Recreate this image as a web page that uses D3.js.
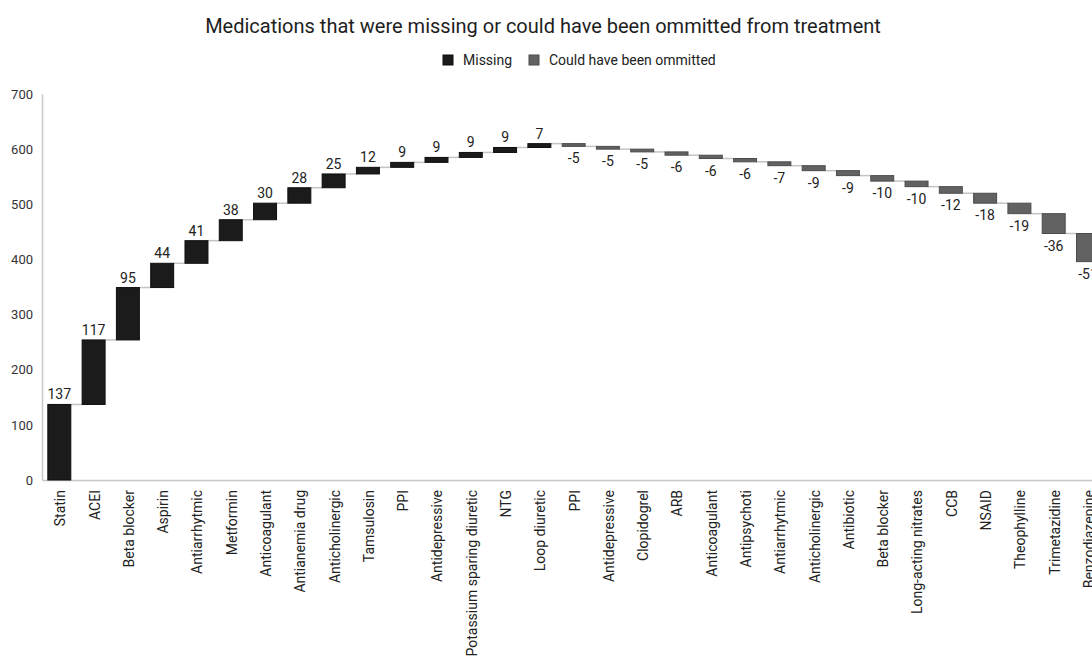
<!DOCTYPE html>
<html><head><meta charset="utf-8">
<script src="https://cdn.jsdelivr.net/npm/d3@7"></script>
<style>
html,body{margin:0;padding:0;background:#fff;overflow:hidden;}
svg{display:block;font-family:Roboto,"Noto Sans",sans-serif;}
</style></head>
<body>
<svg id="chart" width="1092" height="659"></svg>
<script>
const categories = ["Statin","ACEI","Beta blocker","Aspirin","Antiarrhytmic","Metformin","Anticoagulant","Antianemia drug","Anticholinergic","Tamsulosin","PPI","Antidepressive","Potassium sparing diuretic","NTG","Loop diuretic","PPI","Antidepressive","Clopidogrel","ARB","Anticoagulant","Antipsychoti","Antiarrhytmic","Anticholinergic","Antibiotic","Beta blocker","Long-acting nitrates","CCB","NSAID","Theophylline","Trimetazidine","Benzodiazepine"];
const values = [137,117,95,44,41,38,30,28,25,12,9,9,9,9,7,-5,-5,-5,-6,-6,-6,-7,-9,-9,-10,-10,-12,-18,-19,-36,-51];
const seriesNames = ["Missing","Could have been ommitted"];
const yTicks = [0,100,200,300,400,500,600,700];
const title = "Medications that were missing or could have been ommitted from treatment";

const colors = {pos:"#1b1b1b", posStroke:"#0e0e0e", neg:"#626262", negStroke:"#4c4c4c"};

let cum = 0;
const data = categories.map((c,i)=>{
  const start = cum; cum += values[i];
  return {key: i, name: c, value: values[i], start, end: cum};
});

const svg = d3.select("#chart");
const x0 = 42, y0 = 480, yTop = 94;
const x = d3.scaleBand().domain(data.map(d=>d.key)).range([x0, x0 + 31*34.3]).paddingInner(0.33).paddingOuter(0.17);
const y = d3.scaleLinear().domain([0,700]).range([y0, yTop]);

// title
svg.append("text").attr("x",543).attr("y",33).attr("text-anchor","middle")
  .attr("font-size",20).attr("fill","#1e1e1e").text(title);

// legend
const leg = svg.append("g").attr("font-size",14).attr("fill","#222");
const legItems = [{name:seriesNames[0], fill:colors.pos, stroke:colors.posStroke, x:443},
                  {name:seriesNames[1], fill:colors.neg, stroke:colors.negStroke, x:529}];
legItems.forEach(it=>{
  leg.append("rect").attr("x",it.x).attr("y",55).attr("width",10).attr("height",10)
    .attr("fill",it.fill).attr("stroke",it.stroke);
  leg.append("text").attr("x",it.x+20).attr("y",65).attr("fill","#222").text(it.name);
});

// y axis
const yAxis = d3.axisLeft(y).tickValues(yTicks).tickSize(0).tickPadding(9);
const gy = svg.append("g").attr("transform",`translate(${x0},0)`).call(yAxis);
gy.select(".domain").attr("stroke","#c8c8c8").attr("stroke-width",1.5);
gy.selectAll("text").attr("font-size",13).attr("fill","#333").attr("font-family","Roboto,sans-serif");

// x axis
const xAxis = d3.axisBottom(x).tickSize(0).tickFormat(k=>categories[k]);
const gx = svg.append("g").attr("transform",`translate(0,${y0})`).call(xAxis);
gx.select(".domain").attr("stroke","#c8c8c8").attr("stroke-width",1.5);
gx.selectAll("text").attr("font-size",14).attr("fill","#222").attr("font-family","Roboto,sans-serif")
  .attr("text-anchor","end").attr("transform","rotate(-90)").attr("x",-10).attr("y",1).attr("dy","0.35em");

// connectors
svg.append("g").selectAll("line").data(data.slice(0,-1)).join("line")
  .attr("x1",d=>x(d.key)+x.bandwidth()).attr("x2",d=>x(d.key+1))
  .attr("y1",d=>y(d.end)).attr("y2",d=>y(d.end))
  .attr("stroke","#c4c4c4").attr("stroke-width",1.5);

// bars
svg.append("g").selectAll("rect").data(data).join("rect")
  .attr("x",d=>x(d.key)).attr("width",x.bandwidth())
  .attr("y",d=>y(Math.max(d.start,d.end)))
  .attr("height",d=>Math.abs(y(d.start)-y(d.end)))
  .attr("fill",d=>d.value>=0?colors.pos:colors.neg)
  .attr("stroke",d=>d.value>=0?colors.posStroke:colors.negStroke).attr("stroke-width",1);

// value labels
svg.append("g").selectAll("text").data(data).join("text")
  .attr("x",d=>x(d.key)+x.bandwidth()/2)
  .attr("y",d=>d.value>=0 ? y(d.end)-5 : y(d.end)+17)
  .attr("text-anchor","middle").attr("font-size",14).attr("fill","#222")
  .text(d=>d.value);
</script>
</body></html>
